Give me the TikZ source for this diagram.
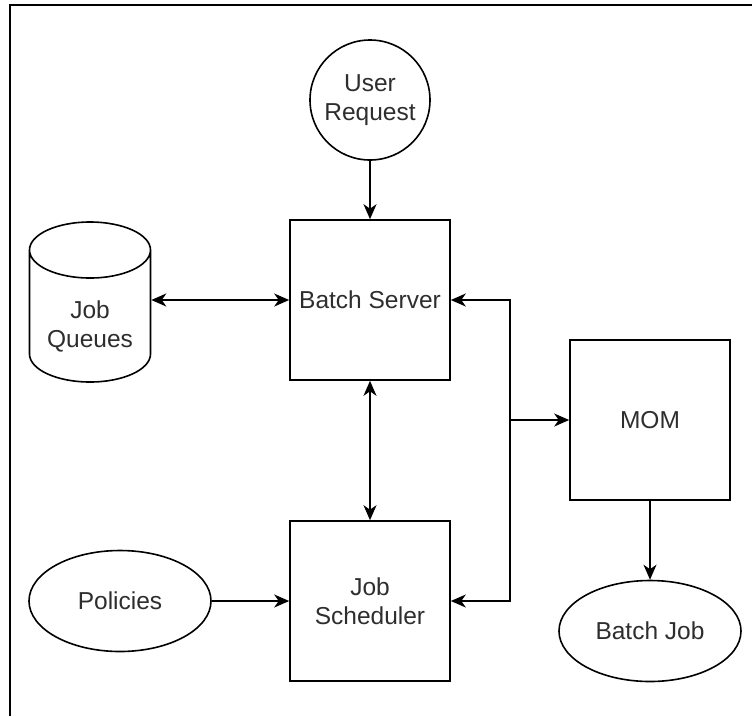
\documentclass[tikz,border=0pt]{standalone}
\usepackage{fontspec}
\setmainfont{Liberation Sans}
\usetikzlibrary{arrows.meta,shapes.geometric}
\begin{document}
\begin{tikzpicture}[x=1pt, y=-1pt, line width=1.6pt,
  txt/.style={font=\fontsize{24.5}{29}\selectfont, text=black!82, align=center},
  box/.style={txt, draw, minimum width=160pt, minimum height=160pt, inner sep=0pt},
  oval/.style={txt, draw, ellipse, minimum width=182pt, minimum height=101pt, inner sep=0pt},
  roundnode/.style={txt, draw, circle, minimum size=120pt, inner sep=0pt},
  tip/.tip={Stealth[length=15pt, width=13pt, inset=4.5pt]},
  link/.style={-tip},
  twoway/.style={tip-tip}]
\useasboundingbox (0,0) rectangle (752,716);

% outer frame (left and top edges)
\draw[line width=2.4pt] (10,716) -- (10,5) -- (752,5);

% main blocks
\node[box] (bs) at (370,300) {Batch Server};
\node[box] (js) at (370,601) {Job\\Scheduler};
\node[box] (mom) at (650,420) {MOM};

% round / elliptic nodes
\node[roundnode] (ur) at (370,100) {User\\Request};
\node[oval] (pol) at (120,601) {Policies};
\node[oval] (bj) at (650,631) {Batch Job};

% job queue store (cylinder)
\node[minimum width=121pt, minimum height=160pt, inner sep=0pt] (jq) at (90,300) {};
\draw (29.5,250) -- (29.5,354)
      arc[start angle=180, end angle=360, x radius=60.5pt, y radius=28pt]
      -- (150.5,250)
      arc[start angle=0, end angle=360, x radius=60.5pt, y radius=28pt];
\node[txt] (jqtext) at (90,326) {Job\\Queues};

% connectors
\draw[link] (ur.south) -- (bs.north);
\draw[twoway] (jq.east) -- (bs.west);
\draw[twoway] (bs.south) -- (js.north);
\draw[link] (pol.east) -- (js.west);
\draw[link] (mom.south) -- (bj.north);

% shared bus between the servers and MOM
\coordinate (bus) at (510,420);
\draw[link] (bus) |- (bs.east);
\draw[link] (bus) |- (js.east);
\draw[link] (bus) -- (mom.west);
\end{tikzpicture}
\end{document}
